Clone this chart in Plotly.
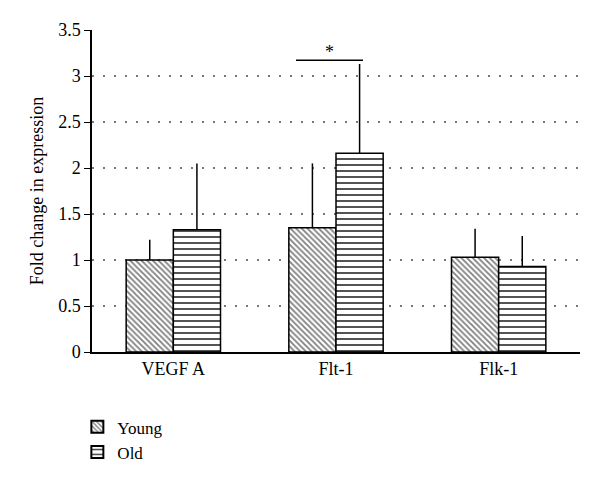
import plotly.graph_objects as go

categories = ["VEGF A", "Flt-1", "Flk-1"]
young = [1.00, 1.35, 1.03]
young_err = [0.22, 0.70, 0.31]
old = [1.33, 2.16, 0.93]
old_err = [0.72, 0.97, 0.33]
y_ticks = [0, 0.5, 1, 1.5, 2, 2.5, 3, 3.5]
sig_x = [0.754, 1.166]
sig_y = 3.17
sig_label = "*"

FONT = "Liberation Serif, Times New Roman, serif"
FS = 18

fig = go.Figure()
fig.add_trace(go.Bar(
    name="Young", x=categories, y=young,
    error_y=dict(type="data", array=young_err, arrayminus=[0]*3, symmetric=False,
                 color="black", thickness=1.5, width=0),
    marker=dict(color="white", line=dict(color="black", width=1.5),
                pattern=dict(shape="\\", fgcolor="black", bgcolor="white", size=4, solidity=0.45)),
))
fig.add_trace(go.Bar(
    name="Old", x=categories, y=old,
    error_y=dict(type="data", array=old_err, arrayminus=[0]*3, symmetric=False,
                 color="black", thickness=1.5, width=0),
    marker=dict(color="white", line=dict(color="black", width=1.5),
                pattern=dict(shape="-", fgcolor="black", bgcolor="white", size=6, solidity=0.3,
                             fgopacity=0.75)),
))

fig.add_shape(type="line", xref="x", yref="y", x0=sig_x[0], x1=sig_x[1], y0=sig_y, y1=sig_y,
              line=dict(color="black", width=1.5))
fig.add_annotation(x=(sig_x[0]+sig_x[1])/2, y=sig_y, xref="x", yref="y", text=sig_label,
                   showarrow=False, yanchor="bottom", yshift=-4,
                   font=dict(family=FONT, size=FS, color="black"))

fig.update_layout(
    width=600, height=486,
    margin=dict(l=84, r=28, t=22, b=142, autoexpand=False),
    paper_bgcolor="white", plot_bgcolor="white",
    barmode="group", bargap=0.42, bargroupgap=0,
    font=dict(family=FONT, size=FS, color="black"),
    showlegend=True,
    legend=dict(x=-0.03, y=-0.178, xanchor="left", yanchor="top", orientation="v",
                font=dict(family=FONT, size=FS - 1, color="black"), bgcolor="rgba(0,0,0,0)",
                tracegroupgap=0, itemsizing="constant"),
    xaxis=dict(showline=True, linecolor="black", linewidth=1.5, ticks="", showgrid=False,
               range=[-0.5, 2.5], tickfont=dict(family=FONT, size=FS, color="black")),
    yaxis=dict(range=[0, 3.5], tickvals=y_ticks, ticktext=[f"{v:g}" for v in y_ticks],
               tickfont=dict(family=FONT, size=FS, color="black"),
               showline=True, linecolor="black", linewidth=1.5, ticks="outside", ticklen=6,
               tickcolor="black", showgrid=True, gridcolor="#777777", gridwidth=1.5,
               griddash="2px,9px", zeroline=False,
               title=dict(text="Fold change in expression",
                          font=dict(family=FONT, size=FS, color="black"), standoff=10)),
)

fig.write_html("out.html")
